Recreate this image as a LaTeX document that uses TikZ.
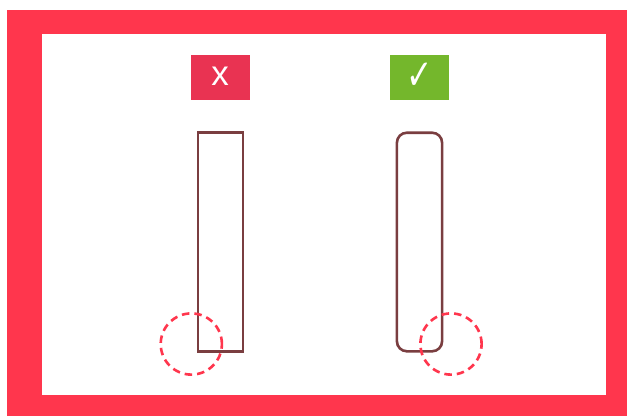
\documentclass[tikz,border=0pt]{standalone}
\usepackage{fontspec}
\setmainfont{Liberation Sans}
\newfontfamily\symfont{DejaVu Sans}
\usepackage{xcolor}
\usetikzlibrary{positioning}
\definecolor{framered}{HTML}{FF364D}
\definecolor{badred}{HTML}{E93352}
\definecolor{goodgreen}{HTML}{74B72C}
\definecolor{edgebrown}{HTML}{7A3E40}

\begin{document}
\begin{tikzpicture}[
    x=1pt, y=-1pt,
    inner sep=0pt, outer sep=0pt,
    frame/.style={fill=framered, minimum width=620pt, minimum height=406pt},
    panel/.style={fill=white, minimum width=563.5pt, minimum height=361pt},
    badge/.style={fill=#1, minimum width=58.5pt, minimum height=45pt},
    mark text/.style={text=white},
    bar/.style={draw=edgebrown, line width=2.6pt, minimum width=45.2pt, minimum height=218.6pt},
    spot/.style={circle, draw=framered, line width=2.6pt, dash pattern=on 7.5pt off 5pt, minimum size=61.2pt}
]
\useasboundingbox (0,0) rectangle (627,416);
\node[frame] (frame) at (317,213) {};
\node[panel] (panel) at (323.75,214) {};
\node[badge=badred] (bad) at (220.5,77) {};
\node[badge=goodgreen] (good) at (419.5,77) {};
\node[mark text, font=\fontsize{35}{35}\selectfont] (badmark) at (220,76) {x};
\node[mark text, font=\symfont\fontsize{42}{42}\selectfont, xscale=0.75] (goodmark) at (419.7,76) {✓};
\node[bar, below=33.2pt of bad] (sharp) {};
\node[bar, rounded corners=10pt, below=33.2pt of good] (round) {};
\node[spot] (spotsharp) at (191.3,344) {};
\node[spot] (spotround) at (451,344) {};
\end{tikzpicture}
\end{document}
